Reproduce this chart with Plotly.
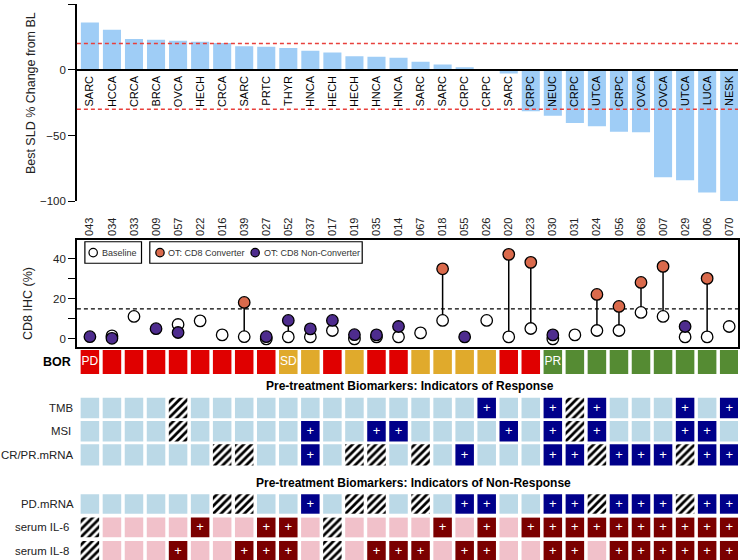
import plotly.graph_objects as go

W, H = 740, 567          # figure size (the photographed page is 740x560 after capture)
REF_H = 560              # pixel grid used for all layout constants below
FONT = "Liberation Sans, Arial, sans-serif"

# ---------------- data ----------------
patients = ["043", "034", "033", "009", "057", "022", "016", "039", "027", "052",
            "037", "017", "019", "035", "014", "067", "018", "055", "026", "020",
            "023", "030", "031", "024", "056", "068", "007", "029", "006", "070"]
tumor = ["SARC", "HCCA", "CRCA", "BRCA", "OVCA", "HECH", "CRCA", "SARC", "PRTC", "THYR",
         "HNCA", "HECH", "HECH", "HNCA", "HNCA", "SARC", "SARC", "CRPC", "CRPC", "SARC",
         "CRPC", "NEUC", "CRPC", "UTCA", "CRPC", "OVCA", "OVCA", "UTCA", "LUCA", "NESK"]
sld_change = [36, 30.5, 23.4, 22.8, 22, 21.3, 20.3, 17.8, 17.5, 16.5,
              14.5, 13.2, 10.2, 9.9, 9.1, 6.1, 4.1, 2, 0, -2.8,
              -31.5, -35, -40.4, -42.9, -47, -47.5, -81.7, -84, -93.2, -100]
cd8_baseline = [None, 1.5, 11.2, None, 7.2, 9, 2, 1.1, 0, 1,
                1, 4.2, 0, 1, 1, 3, 9.2, None, 9.2, 1,
                5.2, 0, 2, 4.2, 4.2, 13.2, 11.2, 1, 1, 6.2]
cd8_ontreat = [1.1, 0.3, None, 5.1, 3.2, None, None, 18.2, 1.1, 9.2,
               5, 9.2, 2.1, 2, 6.2, None, 35, 1, None, 42.2,
               38.2, 2, None, 22.2, 16.2, 28.2, 36.2, 6.2, 30.2, None]
# C = CD8 converter, N = CD8 non-converter, '' = no on-treatment sample
cd8_group = ["N", "N", "", "N", "N", "", "", "C", "N", "N",
             "N", "N", "N", "N", "N", "", "C", "N", "", "C",
             "C", "N", "", "C", "C", "C", "C", "N", "C", ""]
cd8_threshold = 15
sld_thresholds = [20, -30]
bor = ["PD", "PD", "PD", "PD", "PD", "PD", "PD", "PD", "PD", "SD",
       "SD", "PD", "SD", "PD", "PD", "SD", "SD", "SD", "SD", "PD",
       "PD", "PR", "PR", "PR", "PR", "PR", "PR", "PR", "PR", "PR"]
# '+' positive, '-' negative, 'x' not available
tmb = "----x-------------+--+x+---+-+"
msi = "----x-----+--++----+-+x+---++-"
crpr_mrna = "------xx--+-xx-x-+---++x+++x++"
pd_mrna = "------xx--+-xx-x-++--++x+++x++"
il6 = "x----+--++-x----+-+-++++++++++"
il8 = "x---+--+++-x-+++-++--++-++++++"

response_rows = [("TMB", tmb), ("MSI", msi), ("CR/PR.mRNA", crpr_mrna)]
nonresponse_rows = [("PD.mRNA", pd_mrna), ("serum IL-6", il6), ("serum IL-8", il8)]

# ---------------- styles / layout constants ----------------
BAR_C = "#9fcdf6"
RED_DASH = "#e8403c"
ORANGE = "#da6a4c"
PURPLE = "#4e2c8e"
BOR_C = {"PD": "#e00000", "SD": "#e0aa2c", "PR": "#558b33"}
BLUE_NEG, BLUE_POS = "#bbd9e7", "#00008a"
PINK_NEG, RED_POS = "#f1c1ca", "#7b0000"
row_colors = {"TMB": (BLUE_NEG, BLUE_POS), "MSI": (BLUE_NEG, BLUE_POS),
              "CR/PR.mRNA": (BLUE_NEG, BLUE_POS), "PD.mRNA": (BLUE_NEG, BLUE_POS),
              "serum IL-6": (PINK_NEG, RED_POS), "serum IL-8": (PINK_NEG, RED_POS)}
# pixel extents (top, bottom) of each row in the lower panel
row_px = {"BOR": (349.3, 373.3),
          "TMB": (397, 417.5), "MSI": (420.2, 440.7), "CR/PR.mRNA": (443.4, 464.6),
          "PD.mRNA": (493.3, 512.8), "serum IL-6": (516.7, 536.4), "serum IL-8": (540.0, 559.7)}
row_label_right = {"TMB": 75, "MSI": 73, "CR/PR.mRNA": 76, "PD.mRNA": 76,
                   "serum IL-6": 71.5, "serum IL-8": 71.5}


def px_x(p):
    return p / W


def px_y(p):
    return 1 - p / REF_H


XR = [-0.59, 29.4]
XDOM = [px_x(77), px_x(739)]
Y1R = [-100, 50]
Y1DOM = [px_y(201), px_y(4)]
Y2R = [-3.85, 49.4]
Y2DOM = [px_y(346), px_y(239.5)]
Y3R = [560, 346]
Y3DOM = [0, px_y(346)]
zero_pos = Y1DOM[0] + (0 - Y1R[0]) / (Y1R[1] - Y1R[0]) * (Y1DOM[1] - Y1DOM[0])

idx = list(range(len(patients)))
fig = go.Figure()

# ---------------- top: waterfall ----------------
fig.add_trace(go.Bar(x=idx, y=sld_change, width=0.82, marker=dict(color=BAR_C, line=dict(width=0)),
                     xaxis="x", yaxis="y", hoverinfo="skip"))

# ---------------- middle: CD8 IHC ----------------
stem_x, stem_y = [], []
for i, (b, o) in enumerate(zip(cd8_baseline, cd8_ontreat)):
    if b is not None and o is not None:
        stem_x += [i, i, None]
        stem_y += [b, o, None]
fig.add_trace(go.Scatter(x=stem_x, y=stem_y, mode="lines", line=dict(color="black", width=1.5),
                         xaxis="x2", yaxis="y2", hoverinfo="skip", cliponaxis=False))
bx = [i for i, b in enumerate(cd8_baseline) if b is not None]
fig.add_trace(go.Scatter(x=bx, y=[cd8_baseline[i] for i in bx], mode="markers",
                         marker=dict(size=11.5, color="white", line=dict(color="black", width=1.3)),
                         xaxis="x2", yaxis="y2", cliponaxis=False))
ox = [i for i, o in enumerate(cd8_ontreat) if o is not None]
fig.add_trace(go.Scatter(x=ox, y=[cd8_ontreat[i] for i in ox], mode="markers",
                         marker=dict(size=11.5,
                                     color=[ORANGE if cd8_group[i] == "C" else PURPLE for i in ox],
                                     line=dict(color="black", width=1.3)),
                         xaxis="x2", yaxis="y2", cliponaxis=False))

# ---------------- bottom: BOR + biomarkers ----------------
CELL_W = 0.84


def add_cells(xs, top, bot, color, hatched=False):
    if not xs:
        return
    marker = dict(color=color, line=dict(width=0))
    if hatched:
        marker = dict(color="white", line=dict(width=0),
                      pattern=dict(shape="/", fgcolor="black", bgcolor="white", size=5.5,
                                   solidity=0.5, fgopacity=1))
    fig.add_trace(go.Bar(x=xs, y=[bot - top] * len(xs), base=[top] * len(xs), width=CELL_W,
                         marker=marker, xaxis="x3", yaxis="y3", hoverinfo="skip"))


# BOR
t, b = row_px["BOR"]
fig.add_trace(go.Bar(x=idx, y=[b - t] * len(idx), base=[t] * len(idx), width=CELL_W,
                     marker=dict(color=[BOR_C[v] for v in bor], line=dict(width=0)),
                     xaxis="x3", yaxis="y3", hoverinfo="skip"))
first_idx = [bor.index(k) for k in ["PD", "SD", "PR"]]
fig.add_trace(go.Scatter(x=first_idx, y=[(t + b) / 2] * 3, mode="text", text=[bor[i] for i in first_idx],
                         textfont=dict(color="white", size=12, family=FONT), textposition="middle center",
                         xaxis="x3", yaxis="y3", hoverinfo="skip"))

for name, vals in response_rows + nonresponse_rows:
    t, b = row_px[name]
    neg_c, pos_c = row_colors[name]
    neg = [i for i, v in enumerate(vals) if v == "-"]
    pos = [i for i, v in enumerate(vals) if v == "+"]
    na = [i for i, v in enumerate(vals) if v == "x"]
    add_cells(neg, t, b, neg_c)
    add_cells(pos, t, b, pos_c)
    add_cells(na, t, b, "white", hatched=True)
    fig.add_trace(go.Scatter(x=pos, y=[(t + b) / 2 + 0.5] * len(pos), mode="text", text=["+"] * len(pos),
                             textfont=dict(color="white", size=13, family=FONT), textposition="middle center",
                             xaxis="x3", yaxis="y3", hoverinfo="skip", cliponaxis=False))

# ---------------- shapes ----------------
shapes = []
for v in sld_thresholds:
    shapes.append(dict(type="line", xref="x domain", x0=0, x1=1, yref="y", y0=v, y1=v,
                       line=dict(color=RED_DASH, width=1.5, dash="4px,3px"), layer="above"))
shapes.append(dict(type="line", xref="x2 domain", x0=0, x1=1, yref="y2", y0=cd8_threshold, y1=cd8_threshold,
                   line=dict(color="black", width=1.3, dash="4px,3px"), layer="below"))
# legend boxes
for (x0, x1) in [(85, 141.7), (150, 362.7)]:
    shapes.append(dict(type="rect", xref="paper", yref="paper", x0=px_x(x0), x1=px_x(x1),
                       y0=px_y(262.8), y1=px_y(241.3), line=dict(color="black", width=1.2),
                       fillcolor="white"))
legend_items = [(93.3, "white", "Baseline"), (160.2, ORANGE, "OT: CD8 Converter"),
                (255.5, PURPLE, "OT: CD8 Non-Converter")]
annotations = []
for cx, col, label in legend_items:
    shapes.append(dict(type="circle", xref="paper", yref="paper", xsizemode="pixel", ysizemode="pixel",
                       xanchor=px_x(cx), yanchor=px_y(252.2), x0=-4.2, x1=4.2, y0=-4.2, y1=4.2,
                       fillcolor=col, line=dict(color="black", width=1.2)))
    annotations.append(dict(text=label, xref="paper", yref="paper", x=px_x(cx + 6.5), y=px_y(252.2),
                            xanchor="left", yanchor="middle", showarrow=False,
                            font=dict(size=9, color="#333", family=FONT)))

# ---------------- annotations ----------------
annotations += [
    dict(text="Best SLD % Change from BL", xref="paper", yref="paper", x=px_x(31), y=px_y(93),
         xanchor="center", yanchor="middle",
         textangle=-90, showarrow=False, font=dict(size=12.5, color="#222", family=FONT)),
    dict(text="CD8 IHC (%)", xref="paper", yref="paper", x=px_x(28), y=px_y(302.5),
         xanchor="center", yanchor="middle",
         textangle=-90, showarrow=False, font=dict(size=12.5, color="#222", family=FONT)),
    dict(text="<b>BOR</b>", xref="paper", yref="y3", x=px_x(73.5), y=sum(row_px["BOR"]) / 2,
         xanchor="right", yanchor="middle", showarrow=False, font=dict(size=12.5, color="black", family=FONT)),
    dict(text="<b>Pre-treatment Biomarkers: Indicators of Response</b>", xref="paper", yref="y3",
         x=px_x(411), y=385.8, xanchor="center", yanchor="middle", showarrow=False,
         font=dict(size=12, color="black", family=FONT)),
    dict(text="<b>Pre-treatment Biomarkers: Indicators of Non-Response</b>", xref="paper", yref="y3",
         x=px_x(414), y=482.6, xanchor="center", yanchor="middle", showarrow=False,
         font=dict(size=12, color="black", family=FONT)),
]
for name, _ in response_rows + nonresponse_rows:
    t, b = row_px[name]
    annotations.append(dict(text=name, xref="paper", yref="y3", x=px_x(row_label_right[name]), y=(t + b) / 2,
                            xanchor="right", yanchor="middle", showarrow=False,
                            font=dict(size=11.4, color="#222", family=FONT)))

axis_common = dict(showgrid=False, zeroline=False)
fig.update_layout(
    width=W, height=H, margin=dict(l=0, r=0, t=0, b=0),
    paper_bgcolor="white", plot_bgcolor="rgba(0,0,0,0)",
    barmode="overlay", showlegend=False,
    font=dict(family=FONT, size=12, color="#222"),
    xaxis=dict(domain=XDOM, range=XR, anchor="free", position=zero_pos, showline=True,
               linecolor="black", linewidth=1.5, tickmode="array", tickvals=idx, ticktext=tumor,
               tickangle=-90, ticks="", ticklabelstandoff=1, tickfont=dict(size=11, color="black"),
               **axis_common),
    yaxis=dict(domain=Y1DOM, range=Y1R, anchor="x", showline=True, linecolor="black", linewidth=1.5,
               tickmode="array", tickvals=[-100, -50, 0, 50], ticks="outside", ticklen=7,
               tickcolor="black", tickwidth=1.3, tickfont=dict(size=11.5, color="#222"), **axis_common),
    xaxis2=dict(domain=XDOM, range=XR, anchor="y2", side="top", showline=True, mirror=True,
                linecolor="black", linewidth=1.5, tickmode="array", tickvals=idx, ticktext=patients,
                tickangle=-90, ticks="", ticklabelstandoff=0, tickfont=dict(size=11, color="#222"),
                **axis_common),
    yaxis2=dict(domain=Y2DOM, range=Y2R, anchor="x2", showline=True, mirror=True, linecolor="black",
                linewidth=1.5, tickmode="array", tickvals=[0, 10, 20, 30, 40],
                ticktext=["0", "", "20", "", "40"], ticks="outside", ticklen=7, tickcolor="black",
                tickwidth=1.3, tickfont=dict(size=11.5, color="#222"), **axis_common),
    xaxis3=dict(domain=XDOM, range=XR, anchor="y3", visible=False, **axis_common),
    yaxis3=dict(domain=Y3DOM, range=Y3R, anchor="x3", visible=False, **axis_common),
    shapes=shapes, annotations=annotations,
)

fig.write_html("out.html", config={"displayModeBar": False},
               post_script="document.body.style.margin='0px';document.body.style.overflow='hidden';")
